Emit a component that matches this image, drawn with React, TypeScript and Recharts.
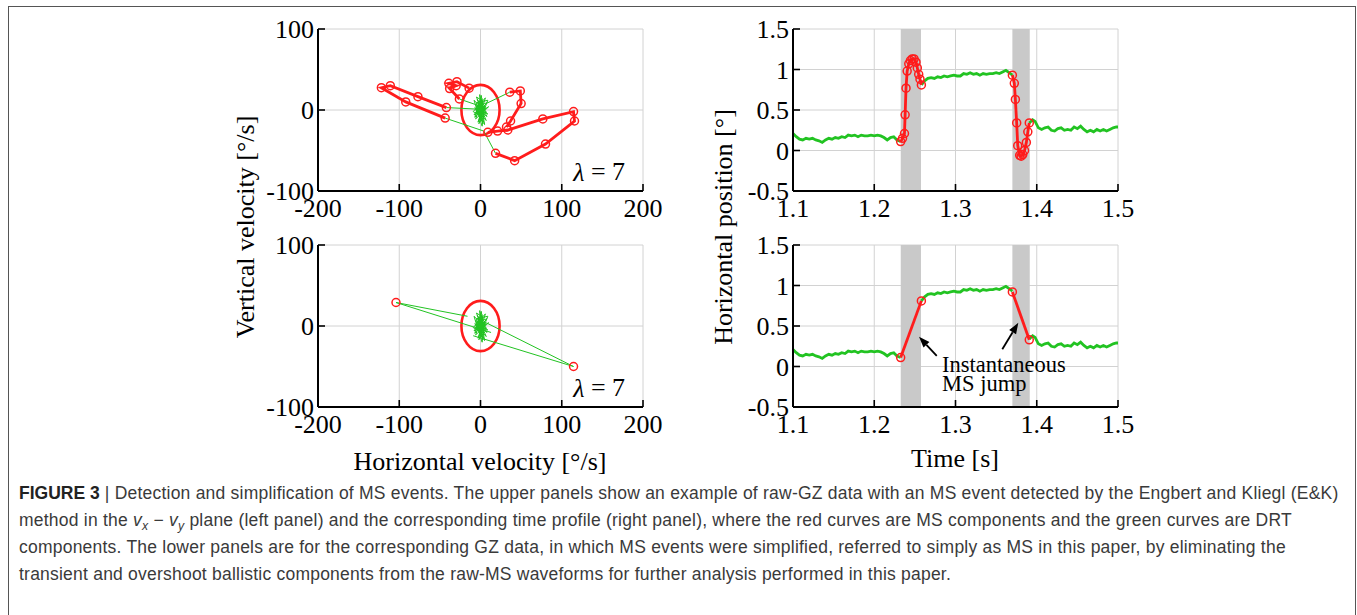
import React from 'react'
import {
  ComposedChart,
  Line,
  XAxis,
  YAxis,
  CartesianGrid,
  ReferenceArea,
  ReferenceDot,
  ReferenceLine,
} from 'recharts'

type Pt = [number, number]

// ---------- velocity plane (left panels), deg/s ----------
const velTicksX = [-200, -100, 0, 100, 200]
const velTicksY = [-100, 0, 100]
const thresholdRadii: Pt = [23.5, 31] // E&K ellipse, lambda = 7
const lambda = 7

// drift samples around the origin
const drtVel: Pt[] = [
  [0, 2], [4, -6], [-3, 9], [6, 3], [-5, -4], [2, 14], [-1, -12], [7, -2], [-6, 7], [3, -17],
  [-2, 5], [8, 9], [-7, -9], [1, 18], [4, -10], [-4, 2], [9, -5], [-8, 12], [2, -20], [5, 6],
  [-3, -15], [6, 15], [-9, -2], [0, -7], [3, 11], [-5, 16], [7, -13], [-2, -3], [10, 4], [-6, -11],
  [1, 8], [4, -3], [-4, 13], [8, -8], [-7, 3], [2, -14], [-1, 19], [5, -18], [-3, 6], [6, 0],
  [-8, -6], [3, 10], [0, -9], [-5, 9], [9, 12], [-2, -17], [4, 4], [-6, 0], [1, -5], [0, 1],
]

// raw MS velocity samples
const msRightward: Pt[] = [
  [9, -27.6], [21, -26], [33.6, -24.7], [76.7, -11], [114.5, -2], [115.7, -13.6], [80, -42], [42, -62.5], [18.5, -53.5],
]
const msReturn: Pt[] = [[-14, 27], [-29, 35], [-39, 33], [-30, 30], [-38, 26.5], [-26, 13.6]]
const msLeftward: Pt[] = [[-43.5, -10], [-92, 10], [-122, 27.5], [-111, 30], [-77, 16.5], [-42, 3]]
const msOvershoot: Pt[] = [[36, 22], [49, 23.5], [50, 8], [37, -13.6], [32, -21]]

// drift links between the cluster and the raw MS samples
const rawLinks: Pt[][] = [
  [[-42, 3], [-2, 1]],
  [[-43.5, -10], [4, -26]],
  [[18.5, -53.5], [4, -26]],
  [[36, 22], [7, 8]],
  [[-26, 13.6], [-4, 6]],
]

// simplified MS (one jump sample each)
const msJumpVel: Pt[] = [[-104, 29], [114.5, -50]]
const jumpLinks: Pt[][] = [
  [[-16, 12], [-104, 29], [13, -8]],
  [[7, 4], [114.5, -50], [-9, -12]],
]

// ---------- time profile (right panels) ----------
const timeTicks = [1.1, 1.2, 1.3, 1.4, 1.5]
const posTicks = [-0.5, 0, 0.5, 1, 1.5]
const msWindows: Pt[] = [[1.2326, 1.2575], [1.37, 1.3914]]

const drtBefore: Pt[] = [
  [1.1, 0.21], [1.104, 0.17], [1.108, 0.14], [1.112, 0.13], [1.116, 0.15], [1.12, 0.14], [1.124, 0.15],
  [1.128, 0.13], [1.132, 0.12], [1.136, 0.1], [1.14, 0.13], [1.144, 0.15], [1.148, 0.14], [1.152, 0.16],
  [1.156, 0.15], [1.16, 0.17], [1.164, 0.16], [1.168, 0.19], [1.172, 0.18], [1.176, 0.19], [1.18, 0.17],
  [1.184, 0.19], [1.188, 0.18], [1.192, 0.18], [1.196, 0.19], [1.2, 0.18], [1.204, 0.19], [1.208, 0.18],
  [1.212, 0.16], [1.216, 0.13], [1.22, 0.16], [1.224, 0.17], [1.228, 0.13], [1.2325, 0.11],
]
const drtMiddle: Pt[] = [
  [1.258, 0.81], [1.262, 0.86], [1.266, 0.89], [1.27, 0.9], [1.274, 0.89], [1.278, 0.91], [1.282, 0.9],
  [1.286, 0.92], [1.29, 0.91], [1.294, 0.92], [1.298, 0.93], [1.302, 0.92], [1.306, 0.92], [1.31, 0.95],
  [1.314, 0.94], [1.318, 0.96], [1.322, 0.94], [1.326, 0.95], [1.33, 0.93], [1.334, 0.95], [1.338, 0.94],
  [1.342, 0.95], [1.346, 0.95], [1.35, 0.96], [1.354, 0.95], [1.358, 0.97], [1.362, 0.99], [1.366, 0.96],
  [1.37, 0.93],
]
const drtAfter: Pt[] = [
  [1.3908, 0.34], [1.393, 0.36], [1.395, 0.38], [1.398, 0.36], [1.402, 0.28], [1.406, 0.26], [1.41, 0.28],
  [1.414, 0.29], [1.418, 0.25], [1.422, 0.24], [1.426, 0.27], [1.43, 0.28], [1.434, 0.25], [1.438, 0.26],
  [1.442, 0.25], [1.446, 0.29], [1.45, 0.27], [1.454, 0.3], [1.458, 0.26], [1.462, 0.23], [1.466, 0.25],
  [1.47, 0.23], [1.474, 0.26], [1.478, 0.24], [1.482, 0.26], [1.486, 0.24], [1.49, 0.26], [1.494, 0.28],
  [1.498, 0.29], [1.5, 0.29],
]
const msUp: Pt[] = [
  [1.2325, 0.11], [1.2348, 0.15], [1.2372, 0.21], [1.238, 0.44], [1.2391, 0.77], [1.2405, 0.98],
  [1.2425, 1.07], [1.2445, 1.11], [1.2466, 1.13], [1.249, 1.13], [1.2514, 1.09], [1.253, 1.02],
  [1.2547, 0.94], [1.2563, 0.88], [1.258, 0.81],
]
const msDown: Pt[] = [
  [1.37, 0.93], [1.3724, 0.83], [1.3737, 0.63], [1.3753, 0.34], [1.3766, 0.06], [1.379, -0.06],
  [1.3808, -0.07], [1.3828, -0.05], [1.385, 0.0], [1.3872, 0.1], [1.389, 0.23], [1.3908, 0.34],
]
const jumpUp: Pt[] = [[1.2325, 0.11], [1.258, 0.81]]
const jumpDown: Pt[] = [[1.37, 0.92], [1.3908, 0.33]]

// annotation in the lower time panel
const noteLines = ['Instantaneous', 'MS jump']
const notePos: Pt = [1.2834, -0.068]
const noteArrows: Pt[][] = [
  [[1.2769, 0.13], [1.2551, 0.368]],
  [[1.3576, 0.212], [1.3773, 0.54]],
]

const SERIF = '"Liberation Serif", "Times New Roman", serif'
const SANS = '"Liberation Sans", Arial, Helvetica, sans-serif'
const RED = '#ff1c1c'
const GREEN = '#22c322'
const GRID = '#d2d2d2'
const BAND = '#c9c9c9'

const rows = (pts: Pt[]) => pts.map(([x, y]) => ({ x, y }))
const ax = { xAxisId: 'b', yAxisId: 'l' }

const redDot = { r: 4, stroke: RED, strokeWidth: 1.5, fill: 'none' }

const EllipseShape = (p: any) => (
  <ellipse
    cx={p.x + p.width / 2}
    cy={p.y + p.height / 2}
    rx={Math.abs(p.width) / 2}
    ry={Math.abs(p.height) / 2}
    fill="none"
    stroke={RED}
    strokeWidth={2.6}
  />
)

const LambdaShape = (p: any) => (
  <text x={p.cx} y={p.cy} textAnchor="middle" dominantBaseline="central" fontFamily={SERIF} fontSize={26} fill="#000">
    <tspan fontStyle="italic">λ</tspan> = {lambda}
  </text>
)

const NoteShape = (p: any) => (
  <text x={p.cx} y={p.cy} fontFamily={SERIF} fontSize={22.5} fill="#000">
    {noteLines.map((l, i) => (
      <tspan key={l} x={p.cx} dy={i === 0 ? 0 : 19}>
        {l}
      </tspan>
    ))}
  </text>
)

const ArrowShape = (p: any) => {
  const { x1, y1, x2, y2 } = p
  const a = Math.atan2(y2 - y1, x2 - x1)
  const len = 11
  const half = 4
  const bx = x2 - len * Math.cos(a)
  const by = y2 - len * Math.sin(a)
  const nx = -Math.sin(a) * half
  const ny = Math.cos(a) * half
  return (
    <g>
      <line x1={x1} y1={y1} x2={bx} y2={by} stroke="#000" strokeWidth={1.8} />
      <polygon points={`${x2},${y2} ${bx + nx},${by + ny} ${bx - nx},${by - ny}`} fill="#000" />
    </g>
  )
}

type PanelProps = {
  left: number
  top: number
  xDomain: [number, number]
  yDomain: [number, number]
  xTicks: number[]
  yTicks: number[]
  children: React.ReactNode
}

function Panel({ left, top, xDomain, yDomain, xTicks, yTicks, children }: PanelProps) {
  const axisLine = { stroke: '#000', strokeWidth: 2 }
  const tickLine = { stroke: '#000', strokeWidth: 1.6 }
  const tick = { fill: '#000', fontSize: 26, fontFamily: SERIF }
  return (
    <div style={{ position: 'absolute', left, top }}>
      <ComposedChart width={420} height={220} margin={{ top: 19, right: 27, bottom: 0, left: 0 }}>
        <CartesianGrid {...ax} stroke={GRID} strokeWidth={1} />
        <XAxis
          xAxisId="b"
          type="number"
          dataKey="x"
          domain={xDomain}
          ticks={xTicks}
          interval={0}
          allowDataOverflow
          height={39}
          tickSize={-7}
          tickMargin={15}
          axisLine={axisLine}
          tickLine={tickLine}
          tick={tick}
        />
        <XAxis
          xAxisId="t"
          orientation="top"
          type="number"
          dataKey="x"
          domain={xDomain}
          ticks={xTicks}
          interval={0}
          allowDataOverflow
          height={0}
          tickSize={-7}
          axisLine={axisLine}
          tickLine={tickLine}
          tick={false}
        />
        <YAxis
          yAxisId="l"
          type="number"
          domain={yDomain}
          ticks={yTicks}
          interval={0}
          allowDataOverflow
          width={68}
          tickSize={-7}
          tickMargin={11}
          axisLine={axisLine}
          tickLine={tickLine}
          tick={tick}
        />
        <YAxis
          yAxisId="r"
          orientation="right"
          type="number"
          domain={yDomain}
          ticks={yTicks}
          interval={0}
          allowDataOverflow
          width={0}
          tickSize={-7}
          axisLine={axisLine}
          tickLine={tickLine}
          tick={false}
        />
        {children}
      </ComposedChart>
    </div>
  )
}

const greenThin = { ...ax, dataKey: 'y', type: 'linear' as const, stroke: GREEN, strokeWidth: 1, dot: false, activeDot: false, isAnimationActive: false }
const redPath = { ...ax, dataKey: 'y', type: 'linear' as const, stroke: RED, strokeWidth: 2.8, dot: redDot, activeDot: false, isAnimationActive: false }
const greenThick = { ...ax, dataKey: 'y', type: 'linear' as const, stroke: GREEN, strokeWidth: 2.8, dot: false, activeDot: false, isAnimationActive: false }

function velocityPanel(top: number, simplified: boolean) {
  return (
    <Panel left={250} top={top} xDomain={[-200, 200]} yDomain={[-100, 100]} xTicks={velTicksX} yTicks={velTicksY}>
      <Line data={rows(drtVel)} {...greenThin} />
      {(simplified ? jumpLinks : rawLinks).map((seg, i) => (
        <Line key={`g${i}`} data={rows(seg)} {...greenThin} />
      ))}
      {simplified
        ? msJumpVel.map((p, i) => (
            <Line key={`j${i}`} data={rows([p])} {...redPath} />
          ))
        : [msRightward, msReturn, msLeftward, msOvershoot].map((s, i) => (
            <Line key={`m${i}`} data={rows(s)} {...redPath} />
          ))}
      <ReferenceArea
        {...ax}
        x1={-thresholdRadii[0]}
        x2={thresholdRadii[0]}
        y1={-thresholdRadii[1]}
        y2={thresholdRadii[1]}
        shape={EllipseShape}
      />
      <ReferenceDot {...ax} x={146} y={-76} r={0} shape={LambdaShape} />
    </Panel>
  )
}

function timePanel(top: number, simplified: boolean) {
  return (
    <Panel left={725} top={top} xDomain={[1.1, 1.5]} yDomain={[-0.5, 1.5]} xTicks={timeTicks} yTicks={posTicks}>
      {msWindows.map(([a, b], i) => (
        <ReferenceArea key={`w${i}`} {...ax} x1={a} x2={b} fill={BAND} fillOpacity={1} stroke="none" />
      ))}
      {[drtBefore, drtMiddle, drtAfter].map((s, i) => (
        <Line key={`d${i}`} data={rows(s)} {...greenThick} />
      ))}
      {(simplified ? [jumpUp, jumpDown] : [msUp, msDown]).map((s, i) => (
        <Line key={`m${i}`} data={rows(s)} {...redPath} />
      ))}
      {simplified &&
        noteArrows.map((seg, i) => (
          <ReferenceLine
            key={`a${i}`}
            {...ax}
            segment={[{ x: seg[0][0], y: seg[0][1] }, { x: seg[1][0], y: seg[1][1] }]}
            shape={ArrowShape}
          />
        ))}
      {simplified && <ReferenceDot {...ax} x={notePos[0]} y={notePos[1]} r={0} shape={NoteShape} />}
    </Panel>
  )
}

const subStyle: React.CSSProperties = { fontSize: '0.7em', lineHeight: 0, verticalAlign: 'baseline', position: 'relative', top: '0.3em' }

export default function App() {
  const label = { fontFamily: SERIF, fontSize: 26, fill: '#000', textAnchor: 'middle' as const, dominantBaseline: 'central' as const }
  return (
    <div style={{ position: 'absolute', left: 0, top: 0, width: 1357, height: 615, overflow: 'hidden', background: '#fff' }}>
      <div style={{ position: 'absolute', left: 8, top: 6, width: 1346, height: 700, border: '1px solid #555' }} />
      {velocityPanel(10, false)}
      {velocityPanel(226, true)}
      {timePanel(10, false)}
      {timePanel(226, true)}
      <svg width={1357} height={615} style={{ position: 'absolute', left: 0, top: 0, pointerEvents: 'none' }}>
        <text {...label} x={245} y={227} transform="rotate(-90 245 227)">Vertical velocity [°/s]</text>
        <text {...label} x={723} y={227} transform="rotate(-90 723 227)">Horizontal position [°]</text>
        <text {...label} x={480} y={461}>Horizontal velocity [°/s]</text>
        <text {...label} x={955} y={458}>Time [s]</text>
      </svg>
      <div
        style={{
          position: 'absolute',
          left: 19,
          top: 480,
          fontFamily: SANS,
          fontSize: 17.5,
          letterSpacing: '0.22px',
          lineHeight: '27px',
          color: '#3a3a3a',
          whiteSpace: 'nowrap',
        }}
      >
        <div style={{ height: 27 }}>
          <b style={{ color: '#222', letterSpacing: 0 }}>FIGURE 3</b> | Detection and simplification of MS events. The upper panels show an example of raw-GZ data with an MS event detected by the Engbert and Kliegl (E&amp;K)
        </div>
        <div style={{ height: 27 }}>
          method in the <i>v</i>
          <span style={subStyle}>
            <i>x</i>
          </span>{' '}
          − <i>v</i>
          <span style={subStyle}>
            <i>y</i>
          </span>{' '}
          plane (left panel) and the corresponding time profile (right panel), where the red curves are MS components and the green curves are DRT
        </div>
        <div style={{ height: 27 }}>
          components. The lower panels are for the corresponding GZ data, in which MS events were simplified, referred to simply as MS in this paper, by eliminating the
        </div>
        <div style={{ height: 27 }}>transient and overshoot ballistic components from the raw-MS waveforms for further analysis performed in this paper.</div>
      </div>
    </div>
  )
}
